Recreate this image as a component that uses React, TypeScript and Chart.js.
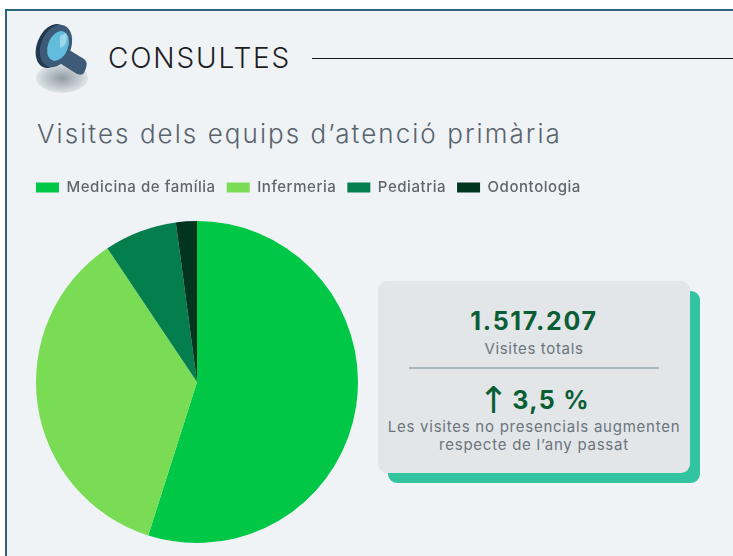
import React, { useEffect, useRef } from "react";
import { Chart, registerables } from "chart.js";

Chart.register(...registerables);

const categories = ["Medicina de família", "Infermeria", "Pediatria", "Odontologia"];
const visites = [54.9, 35.7, 7.3, 2.1];
const colors = ["#00c846", "#7adc55", "#037e4c", "#01351f"];
const FONT = "Inter, 'Noto Sans', sans-serif";

const abs = (left: number, top: number, extra: React.CSSProperties = {}): React.CSSProperties => ({
  position: "absolute",
  left,
  top,
  whiteSpace: "nowrap",
  ...extra,
});

// Legend runs wider than the pie: spacing the text and confining the pie to its own area.
const pieArea = { left: 11, right: 333, top: 52, bottom: 374 };
const piePlacement = {
  id: "piePlacement",
  beforeLayout(chart: any) {
    chart.ctx.letterSpacing = "0.55px";
  },
  afterLayout(chart: any) {
    const a = chart.chartArea;
    a.left = pieArea.left;
    a.right = pieArea.right;
    a.top = pieArea.top;
    a.bottom = pieArea.bottom;
    a.width = pieArea.right - pieArea.left;
    a.height = pieArea.bottom - pieArea.top;
  },
};

export default function App() {
  const ref = useRef<HTMLCanvasElement | null>(null);
  useEffect(() => {
    const chart = new Chart(ref.current!, {
      type: "pie",
      data: {
        labels: categories,
        datasets: [{ data: visites, backgroundColor: colors, borderWidth: 0 }],
      },
      plugins: [piePlacement],
      options: {
        responsive: false,
        animation: false,
        plugins: {
          tooltip: { enabled: false },
          legend: {
            position: "top",
            align: "start",
            labels: {
              boxWidth: 23,
              boxHeight: 10,
              padding: 11,
              color: "#60666e",
              font: { family: FONT, size: 15, weight: "500" },
            },
          },
        },
      },
    } as any);
    return () => chart.destroy();
  }, []);

  return (
    <div style={{ position: "fixed", left: 0, top: 0, width: 733, height: 556, overflow: "hidden", background: "#fff", fontFamily: FONT }}>
      <div style={{ position: "absolute", left: 5, top: 9, width: 740, height: 560, border: "2px solid #2a6478", background: "#eff3f6" }} />
      <svg style={{ position: "absolute", left: 30, top: 18 }} width={66} height={78} viewBox="0 0 66 78">
        <defs>
          <radialGradient id="sh">
            <stop offset="0%" stopColor="#8f9ba3" />
            <stop offset="100%" stopColor="#dfe4e7" />
          </radialGradient>
        </defs>
        <ellipse cx="32" cy="60" rx="26" ry="15" fill="url(#sh)" />
        <path d="M36 30 L54 41 Q58 44 56 50 L54 55 Q52 58 47 56 L28 44 Z" fill="#3d5a78" />
        <ellipse cx="22" cy="28" rx="15" ry="23" transform="rotate(22 22 28)" fill="#24384f" />
        <ellipse cx="26" cy="28" rx="15" ry="22" transform="rotate(22 26 28)" fill="#3d5a78" />
        <ellipse cx="28" cy="28" rx="10" ry="15.5" transform="rotate(22 28 28)" fill="#62bcdc" />
        <path d="M30 18 L36 15 Q38 20 35 27 L30 30 Z" fill="#9fd6ea" />
      </svg>
      <div style={abs(108, 38, { fontSize: 28, fontWeight: 300, letterSpacing: 1.85, lineHeight: "40px", color: "#1d1d22" })}>CONSULTES</div>
      <div style={{ position: "absolute", left: 312, top: 58, width: 421, height: 1, background: "#1a1a1a" }} />
      <div style={abs(37, 116, { fontSize: 26, fontWeight: 300, letterSpacing: 2.06, lineHeight: "36px", color: "#59636e" })}>Visites dels equips d’atenció primària</div>

      <canvas ref={ref} width={570} height={376} style={{ position: "absolute", left: 25, top: 169, display: "block" }} />

      <div style={{ position: "absolute", left: 388, top: 291, width: 312, height: 192, borderRadius: 9, background: "#32c4a0" }} />
      <div style={{ position: "absolute", left: 378, top: 281, width: 312, height: 192, borderRadius: 9, background: "#e2e6e9" }} />
      <div style={abs(378, 304, { width: 312, textAlign: "center", fontSize: 25, fontWeight: 700, letterSpacing: 1.7, lineHeight: "34px", color: "#0b5e34" })}>1.517.207</div>
      <div style={abs(378, 339, { width: 312, textAlign: "center", fontSize: 15, letterSpacing: 0.65, lineHeight: "20px", color: "#6c747c" })}>Visites totals</div>
      <div style={{ position: "absolute", left: 409, top: 367, width: 250, height: 2, background: "#a9b6bd" }} />
      <div style={abs(378, 383, { width: 312, textAlign: "center", fontSize: 25, fontWeight: 700, letterSpacing: 1.3, lineHeight: "34px", color: "#0b5e34" })}>
        <span style={{ fontFamily: "'DejaVu Sans'", fontWeight: 400, fontSize: 37, lineHeight: "34px", marginRight: 2, verticalAlign: -4 }}>↑</span>3,5 %
      </div>
      <div style={abs(378, 418, { width: 312, textAlign: "center", fontSize: 15, letterSpacing: 0.75, lineHeight: "18px", color: "#6c747c" })}>
        Les visites no presencials augmenten<br />respecte de l’any passat
      </div>
    </div>
  );
}
